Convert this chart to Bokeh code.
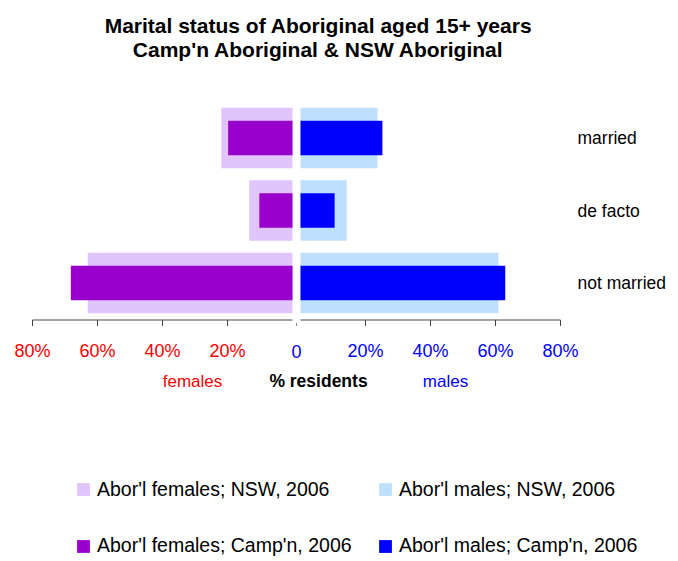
from bokeh.plotting import figure
from bokeh.models import Range1d, Label, Legend, LegendItem, ColumnDataSource
from bokeh.embed import file_html
from bokeh.resources import INLINE
from bokeh.core.properties import value

# ---------------- data ----------------
categories = ["married", "de facto", "not married"]
female_nsw = [21.9, 13.3, 63.0]
female_campn = [19.8, 10.2, 68.2]
male_nsw = [23.7, 14.2, 60.9]
male_campn = [25.2, 10.5, 63.0]
tick_values = [20, 40, 60, 80]
tick_labels = ["20%", "40%", "60%", "80%"]
series_names = ["Abor'l females; NSW, 2006", "Abor'l males; NSW, 2006",
                "Abor'l females; Camp'n, 2006", "Abor'l males; Camp'n, 2006"]
series_colors = ["#E1C4FB", "#BFDFFE", "#9900CC", "#0000FF"]
title_lines = ["Marital status of Aboriginal aged 15+ years",
               "Camp'n Aboriginal & NSW Aboriginal"]

FONT = "Liberation Sans"

# ---------------- geometry ----------------
W, H = 678, 561
PX = 3.25          # pixels per percent
GAP = 4 / PX       # half gap between halves (in %)
CENTER = 296       # px of the centre line
ROW = 72.5         # px per category row
BASE = 282.5       # px (from top) of the bottom category

def sy(page_y):    # page y -> screen y from bottom of figure
    return H - page_y

def dy(page_y):    # page y -> data y
    return (BASE - page_y) / ROW

p = figure(width=W, height=H,
           x_range=Range1d(-CENTER / PX, (W - CENTER) / PX),
           y_range=Range1d((BASE - H) / ROW, BASE / ROW),
           output_backend="svg", toolbar_location=None, min_border=0,
           x_axis_location=None, y_axis_location=None,
           outline_line_color=None)
p.grid.visible = False

n = len(categories)
ys = [n - 1 - i for i in range(n)]

def src(vals, side):
    if side < 0:
        left = [-GAP - v for v in vals]
        right = [-GAP] * len(vals)
    else:
        left = [GAP] * len(vals)
        right = [GAP + v for v in vals]
    return ColumnDataSource(dict(y=ys, left=left, right=right))

r_fn = p.hbar(y="y", left="left", right="right", height=0.834, source=src(female_nsw, -1),
              fill_color=series_colors[0], line_color=None)
r_mn = p.hbar(y="y", left="left", right="right", height=0.834, source=src(male_nsw, 1),
              fill_color=series_colors[1], line_color=None)
r_fc = p.hbar(y="y", left="left", right="right", height=0.479, source=src(female_campn, -1),
              fill_color=series_colors[2], line_color=None)
r_mc = p.hbar(y="y", left="left", right="right", height=0.479, source=src(male_campn, 1),
              fill_color=series_colors[3], line_color=None)

# ---------------- custom axis ----------------
ya = dy(319.5)
yt = dy(325.5)
axis_col = "#444444"
p.segment(x0=[-GAP - max(tick_values), GAP], y0=[ya, ya],
          x1=[-GAP, GAP + max(tick_values)], y1=[ya, ya],
          line_color=axis_col, line_width=1)
tx = [-GAP - v for v in tick_values] + [GAP + v for v in tick_values]
p.segment(x0=tx, y0=[ya] * len(tx), x1=tx, y1=[yt] * len(tx),
          line_color=axis_col, line_width=1)
p.segment(x0=[0], y0=[dy(322.5)], x1=[0], y1=[dy(325.5)], line_color="#888888", line_width=1)

ylab = dy(350.5)
p.text(x=[-GAP - v for v in tick_values], y=[ylab] * len(tick_values), text=tick_labels,
       text_color="#FF0000", text_font=value(FONT), text_font_size="18px",
       text_align="center", text_baseline="middle")
p.text(x=[GAP + v for v in tick_values], y=[ylab] * len(tick_values), text=tick_labels,
       text_color="#0000FF", text_font=value(FONT), text_font_size="18px",
       text_align="center", text_baseline="middle")
p.text(x=[0], y=[ylab], text=["0"], text_color="#0000FF", text_font=value(FONT),
       text_font_size="18px", text_align="center", text_baseline="middle")

# category labels
p.text(x=[GAP + max(tick_values) + 17 / PX] * n, y=ys, text=categories,
       text_color="#000000", text_font=value(FONT), text_font_size="17.5px",
       text_align="left", text_baseline="middle")

# axis names
for txt, px, col, style, fs in [("females", 192, "#FF0000", "normal", "17px"),
                                ("% residents", 318, "#000000", "bold", "17.5px"),
                                ("males", 445, "#0000FF", "normal", "17px")]:
    p.add_layout(Label(x=px, y=sy(380.7), x_units="screen", y_units="screen",
                       text=txt, text_color=col, text_font=FONT, text_font_size=fs,
                       text_font_style=style, text_align="center", text_baseline="middle"))

# title
for txt, base in zip(title_lines, [24.5, 48.5]):
    p.add_layout(Label(x=318, y=sy(base), x_units="screen", y_units="screen",
                       text=txt, text_color="#000000", text_font=FONT, text_font_size="21px",
                       text_font_style="bold", text_align="center", text_baseline="alphabetic"))

# legends
legend_pos = [(75, 489.5), (377, 489.5), (75, 546), (377, 546)]
for (lx, cy), name, r in zip(legend_pos, series_names, [r_fn, r_mn, r_fc, r_mc]):
    leg = Legend(items=[LegendItem(label=name, renderers=[r])],
                 location=(lx, sy(cy) - 11), padding=0, margin=0, spacing=0,
                 glyph_width=16, glyph_height=16, label_standoff=6,
                 label_text_font=FONT, label_text_font_size="19.5px",
                 label_text_color="#000000",
                 label_height=16, border_line_color=None, background_fill_alpha=0)
    p.add_layout(leg)

open("out.html", "w").write(file_html(p, INLINE))
